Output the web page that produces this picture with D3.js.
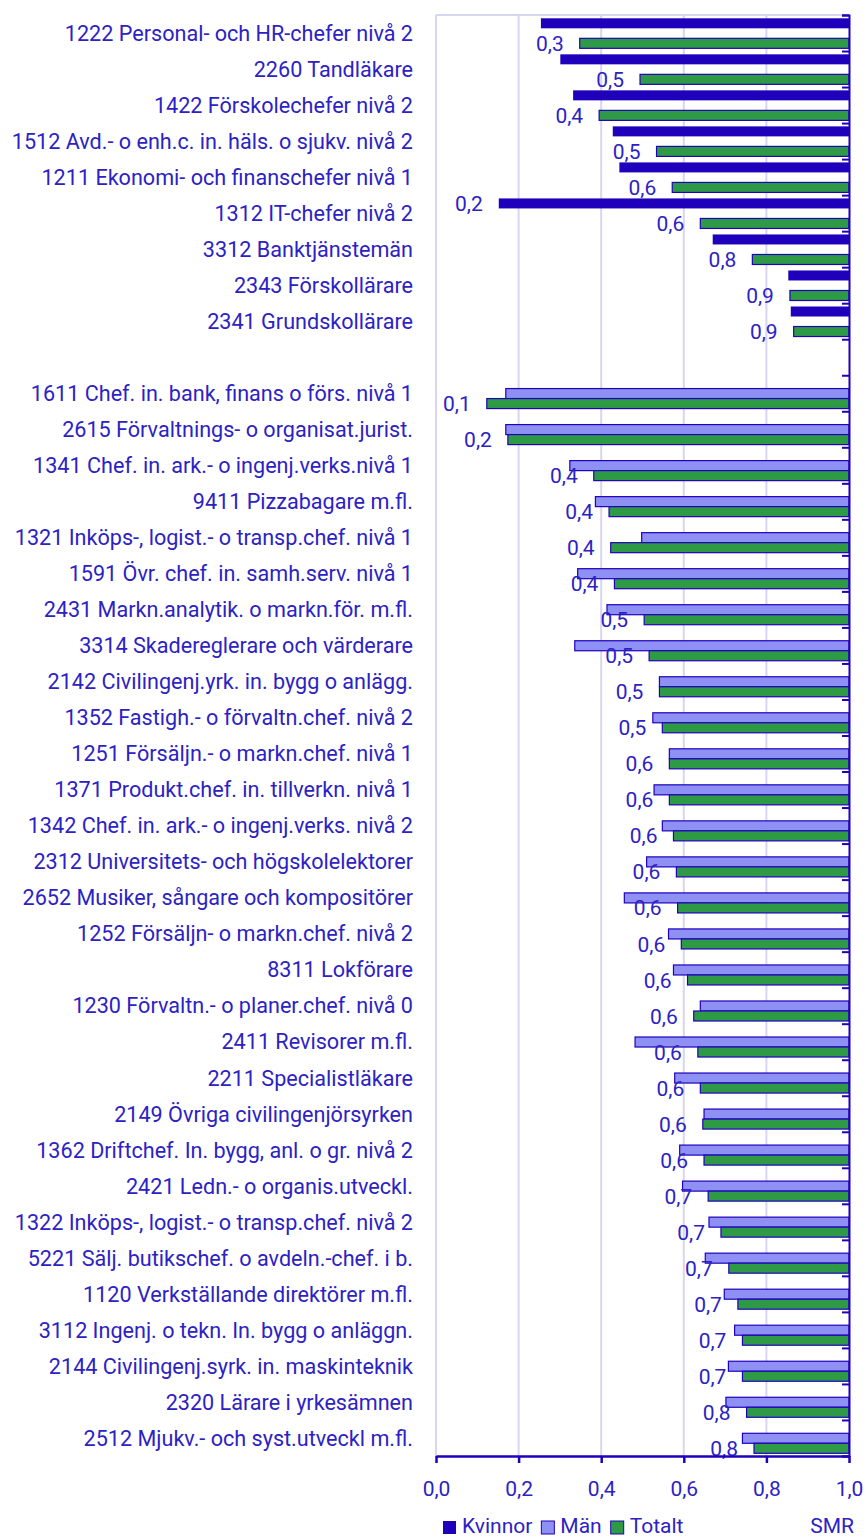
<!DOCTYPE html>
<html>
<head>
<meta charset="utf-8">
<script src="https://cdn.jsdelivr.net/npm/d3@7"></script>
<style>
  body { margin: 0; background: #fff; }
  text { font-family: Roboto, sans-serif; }
</style>
</head>
<body>
<div id="chart"></div>
<script>
// Yrken där kvinnor jämförs (Kvinnor + Totalt)
const womenCategories = [
  "1222 Personal- och HR-chefer nivå 2",
  "2260 Tandläkare",
  "1422 Förskolechefer nivå 2",
  "1512 Avd.- o enh.c. in. häls. o sjukv. nivå 2",
  "1211 Ekonomi- och finanschefer nivå 1",
  "1312 IT-chefer nivå 2",
  "3312 Banktjänstemän",
  "2343 Förskollärare",
  "2341 Grundskollärare"
];
const kvinnorValues = [0.254, 0.301, 0.332, 0.428, 0.444, 0.152, 0.670, 0.853, 0.859];
const totaltWomen = [0.348, 0.494, 0.395, 0.534, 0.572, 0.640, 0.766, 0.857, 0.866];
// bara denna Kvinnor-stapel har etikett i originalet
const kvinnorLabelled = ["1312 IT-chefer nivå 2"];

// Yrken där män jämförs (Män + Totalt)
const menCategories = [
  "1611 Chef. in. bank, finans o förs. nivå 1",
  "2615 Förvaltnings- o organisat.jurist.",
  "1341 Chef. in. ark.- o ingenj.verks.nivå 1",
  "9411 Pizzabagare m.fl.",
  "1321 Inköps-, logist.- o transp.chef. nivå 1",
  "1591 Övr. chef. in. samh.serv. nivå 1",
  "2431 Markn.analytik. o markn.för. m.fl.",
  "3314 Skadereglerare och värderare",
  "2142 Civilingenj.yrk. in. bygg o anlägg.",
  "1352 Fastigh.- o förvaltn.chef. nivå 2",
  "1251 Försäljn.- o markn.chef. nivå 1",
  "1371 Produkt.chef. in. tillverkn. nivå 1",
  "1342 Chef. in. ark.- o ingenj.verks. nivå 2",
  "2312 Universitets- och högskolelektorer",
  "2652 Musiker, sångare och kompositörer",
  "1252 Försäljn- o markn.chef. nivå 2",
  "8311 Lokförare",
  "1230 Förvaltn.- o planer.chef. nivå 0",
  "2411 Revisorer m.fl.",
  "2211 Specialistläkare",
  "2149 Övriga civilingenjörsyrken",
  "1362 Driftchef. In. bygg, anl. o gr. nivå 2",
  "2421 Ledn.- o organis.utveckl.",
  "1322 Inköps-, logist.- o transp.chef. nivå 2",
  "5221 Sälj. butikschef. o avdeln.-chef. i b.",
  "1120 Verkställande direktörer m.fl.",
  "3112 Ingenj. o tekn. In. bygg o anläggn.",
  "2144 Civilingenj.syrk. in. maskinteknik",
  "2320 Lärare i yrkesämnen",
  "2512 Mjukv.- och syst.utveckl m.fl."
];
const manValues = [0.169, 0.169, 0.324, 0.386, 0.498, 0.343, 0.414, 0.336, 0.541, 0.525,
  0.565, 0.528, 0.548, 0.510, 0.456, 0.563, 0.575, 0.640, 0.482, 0.578,
  0.649, 0.590, 0.597, 0.661, 0.652, 0.698, 0.723, 0.708, 0.702, 0.742];
const totaltMen = [0.123, 0.174, 0.382, 0.419, 0.423, 0.432, 0.504, 0.516, 0.541, 0.548,
  0.565, 0.565, 0.575, 0.582, 0.585, 0.594, 0.609, 0.624, 0.634, 0.640,
  0.646, 0.649, 0.659, 0.690, 0.709, 0.731, 0.742, 0.742, 0.752, 0.770];

const xTicks = [0, 0.2, 0.4, 0.6, 0.8, 1.0];
const seriesNames = ["Kvinnor", "Män", "Totalt"];

const width = 867;
const height = 1537;

const colors = {
  Kvinnor: "#1f00bb",
  Män: "#8e90f4",
  Totalt: "#2f9a46",
  text: "#2c22c4",
  axis: "#1f00bb",
  grid: "#d6d6f0"
};

// bygg raderna, en tom rad mellan grupperna
const rows = [];
womenCategories.forEach((c, i) => {
  rows.push({ key: c, label: c, Kvinnor: kvinnorValues[i], Män: null, Totalt: totaltWomen[i] });
});
rows.push({ key: "__blank__", label: "", Kvinnor: null, Män: null, Totalt: null });
menCategories.forEach((c, i) => {
  rows.push({ key: c, label: c, Kvinnor: null, Män: manValues[i], Totalt: totaltMen[i] });
});

const margin = { top: 15, left: 436, right: 18, bottom: 81 };
const plotRight = width - margin.right;
const plotBottom = height - margin.bottom;

const x = d3.scaleLinear().domain([0, 1]).range([margin.left, plotRight]);
const y = d3.scaleBand().domain(rows.map((d) => d.key)).range([margin.top, plotBottom]);
const ySeries = d3.scaleBand().domain(seriesNames).range([3.3, y.bandwidth() - 2.7]);
const rowEdges = d3.scaleLinear().domain([0, rows.length]).range([margin.top, plotBottom]);

const fmt = (v) => v.toFixed(1).replace(".", ",");

const svg = d3.create("svg").attr("width", width).attr("height", height);
// i DOM direkt så att textlängder kan mätas
document.getElementById("chart").appendChild(svg.node());

// ram för plotytan (topp)
svg.append("line")
  .attr("x1", x(0)).attr("x2", x(1))
  .attr("y1", margin.top).attr("y2", margin.top)
  .attr("stroke", colors.grid).attr("stroke-width", 2);

// rutnät (inkl. vänsterkant)
svg.append("g")
  .selectAll("line")
  .data(xTicks.filter((t) => t < 1))
  .join("line")
  .attr("x1", (d) => x(d)).attr("x2", (d) => x(d))
  .attr("y1", margin.top).attr("y2", plotBottom)
  .attr("stroke", colors.grid)
  .attr("stroke-width", 2);

// staplar, går från 1,0 åt vänster till värdet
const barData = [];
rows.forEach((r) => {
  seriesNames.forEach((s) => {
    if (r[s] != null) barData.push({ row: r, series: s, value: r[s] });
  });
});

svg.append("g")
  .selectAll("rect")
  .data(barData)
  .join("rect")
  .attr("x", (d) => x(d.value))
  .attr("y", (d) => y(d.row.key) + ySeries(d.series))
  .attr("width", (d) => x(1) - x(d.value))
  .attr("height", ySeries.bandwidth())
  .attr("fill", (d) => colors[d.series])
  .attr("stroke", (d) => (d.series === "Kvinnor" ? "none" : colors.axis))
  .attr("stroke-width", 1.2);

// etiketter: Totalt överallt, Kvinnor bara där originalet visar den
const labelData = barData.filter(
  (d) => d.series === "Totalt" || (d.series === "Kvinnor" && kvinnorLabelled.includes(d.row.key))
);

svg.append("g")
  .selectAll("text")
  .data(labelData)
  .join("text")
  .attr("x", (d) => x(d.value) - 16)
  .attr("y", (d) => y(d.row.key) + ySeries(d.series) + ySeries.bandwidth() / 2)
  .attr("dy", "0.36em")
  .attr("text-anchor", "end")
  .attr("fill", colors.text)
  .style("font-size", "21px")
  .text((d) => fmt(d.value));

// kategorinamn till vänster
svg.append("g")
  .selectAll("text")
  .data(rows.filter((r) => r.label))
  .join("text")
  .attr("x", 413)
  .attr("y", (d) => y(d.key) + y.bandwidth() / 2)
  .attr("dy", "0.36em")
  .attr("text-anchor", "end")
  .attr("fill", colors.text)
  .style("font-size", "21.6px")
  .text((d) => d.label);

// höger axel med streck mellan raderna
const rightAxis = svg.append("g")
  .attr("transform", `translate(${x(1)},0)`)
  .call(d3.axisLeft(rowEdges).tickValues(d3.range(0, rows.length + 1)).tickSize(7).tickFormat(""));
rightAxis.selectAll("path, line").attr("stroke", colors.axis).attr("stroke-width", 2);

// x-axel
const bottomAxis = svg.append("g")
  .attr("transform", `translate(0,${plotBottom})`)
  .call(d3.axisBottom(x).tickValues(xTicks).tickSize(7).tickSizeOuter(0).tickPadding(18).tickFormat(fmt));
bottomAxis.selectAll("path, line").attr("stroke", colors.axis).attr("stroke-width", 2.5);
bottomAxis.selectAll("text")
  .attr("fill", colors.text)
  .style("font-size", "21px")
  .style("font-family", "Roboto, sans-serif");

// förklaring
const legend = svg.append("g").attr("transform", `translate(443, 1533)`);
let lx = 0;
seriesNames.forEach((s) => {
  const g = legend.append("g").attr("transform", `translate(${lx},0)`);
  g.append("rect")
    .attr("x", 0).attr("y", -12)
    .attr("width", 13).attr("height", 13)
    .attr("fill", colors[s])
    .attr("stroke", s === "Kvinnor" ? "none" : colors.axis)
    .attr("stroke-width", 1);
  const t = g.append("text")
    .attr("x", 19).attr("y", 0)
    .attr("fill", colors.text)
    .style("font-size", "21px")
    .text(s);
  lx += 19 + t.node().getComputedTextLength() + 9;
});

svg.append("text")
  .attr("x", 854).attr("y", 1533)
  .attr("text-anchor", "end")
  .attr("fill", colors.text)
  .style("font-size", "21px")
  .text("SMR");
</script>
</body>
</html>
